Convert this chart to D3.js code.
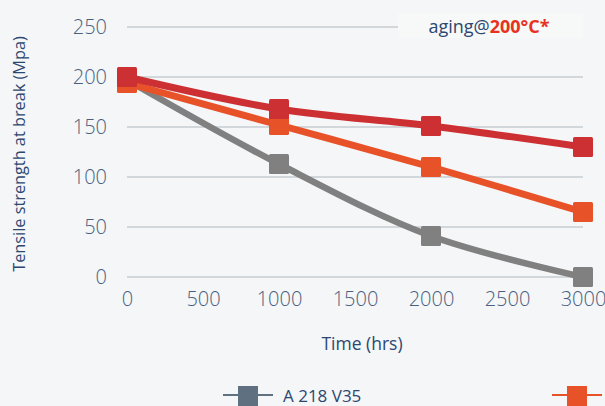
<!DOCTYPE html>
<html><head><meta charset="utf-8">
<script src="https://cdn.jsdelivr.net/npm/d3@7"></script>
<style>
html,body{margin:0;padding:0;background:#f4f6f8;overflow:hidden}
svg{display:block}
</style></head>
<body><svg id="c" width="605" height="406"></svg>
<script>
const times = [0, 1000, 2000, 3000];
const seriesNames = ["A 218 V35", "Series 2", "Series 3"];
const grayValues = [197, 113, 41, 0];
const orangeValues = [194, 152, 110, 65];
const redValues = [200, 168, 151, 130];
const yTicks = [0, 50, 100, 150, 200, 250];
const xTicks = [0, 500, 1000, 1500, 2000, 2500, 3000];

const W = 605, H = 406;
const svg = d3.select("#c");
svg.append("rect").attr("width", W).attr("height", H).attr("fill", "#f4f6f8");

const x = d3.scaleLinear().domain([0, 3000]).range([127, 583]);
const y = d3.scaleLinear().domain([0, 250]).range([277, 27]);

const tickColor = "#4a6080";
const fontFam = "'Open Sans', 'DejaVu Sans', sans-serif";

// gridlines
svg.append("g").selectAll("line").data(yTicks).join("line")
  .attr("x1", 127).attr("x2", 583)
  .attr("y1", d => y(d)).attr("y2", d => y(d))
  .attr("stroke", "#c6cdd0").attr("stroke-width", 1.3);

// y axis
const yAxis = svg.append("g").attr("transform", "translate(107,0)")
  .call(d3.axisLeft(y).tickValues(yTicks).tickSize(0).tickPadding(0));
yAxis.select(".domain").remove();
yAxis.selectAll("text").attr("font-family", fontFam).attr("font-size", 20)
  .attr("fill", tickColor).attr("font-weight", 300);

// x axis
const xAxis = svg.append("g").attr("transform", "translate(0,292)")
  .call(d3.axisBottom(x).tickValues(xTicks).tickSize(0).tickPadding(0).tickFormat(d3.format("d")));
xAxis.select(".domain").remove();
xAxis.selectAll("text").attr("font-family", fontFam).attr("font-size", 20)
  .attr("fill", tickColor).attr("font-weight", 300).attr("dy", "0.71em");

// axis titles
svg.append("text").attr("transform", "translate(25,154) rotate(-90)")
  .attr("text-anchor", "middle").attr("font-family", fontFam).attr("font-size", 16.3)
  .attr("fill", "#2c4770").text("Tensile strength at break (Mpa)");
svg.append("text").attr("x", 362).attr("y", 350)
  .attr("text-anchor", "middle").attr("font-family", fontFam).attr("font-size", 17.5)
  .attr("fill", "#2c4770").text("Time (hrs)");

// title box
svg.append("rect").attr("x", 398).attr("y", 13).attr("width", 185).attr("height", 25).attr("fill", "#f7f8f8");
const t = svg.append("text").attr("x", 489).attr("y", 33).attr("text-anchor", "middle")
  .attr("font-family", fontFam).attr("font-size", 18);
t.append("tspan").attr("fill", "#2c4770").text("aging@");
t.append("tspan").attr("fill", "#e8321e").attr("font-weight", "bold").text("200°C*");

const series = [
  { name: seriesNames[0], values: grayValues, color: "#808080", legendColor: "#5f7080", lw: 6.5 },
  { name: seriesNames[1], values: orangeValues, color: "#e85228", legendColor: "#e85228", lw: 7 },
  { name: seriesNames[2], values: redValues, color: "#cd3033", legendColor: "#cd3033", lw: 7 }
];

const line = d3.line().x(d => x(d[0])).y(d => y(d[1])).curve(d3.curveCatmullRom.alpha(0.5));
const ms = 20;
series.forEach(s => {
  const pts = times.map((t, i) => [t, s.values[i]]);
  svg.append("path").datum(pts).attr("d", line).attr("fill", "none")
    .attr("stroke", s.color).attr("stroke-width", s.lw).attr("stroke-linejoin", "round");
  svg.append("g").selectAll("rect").data(pts).join("rect")
    .attr("x", d => x(d[0]) - ms / 2).attr("y", d => y(d[1]) - ms / 2)
    .attr("width", ms).attr("height", ms).attr("rx", 1.5).attr("fill", s.color);
});

// legend (entries beyond the right edge are cut off, as in the reference)
const legendX = [223, 552, 880];
series.forEach((s, i) => {
  const g = svg.append("g").attr("transform", `translate(${legendX[i]},395)`);
  g.append("line").attr("x1", 0).attr("x2", 50).attr("y1", 0).attr("y2", 0)
    .attr("stroke", s.legendColor).attr("stroke-width", 2);
  g.append("rect").attr("x", 15).attr("y", -9).attr("width", 20).attr("height", 20).attr("fill", s.legendColor);
  if (legendX[i] + 60 < W) {
    g.append("text").attr("x", 60).attr("y", 7).attr("font-family", fontFam).attr("font-size", 17)
      .attr("fill", "#2c4770").text(s.name);
  }
});
</script></body></html>
